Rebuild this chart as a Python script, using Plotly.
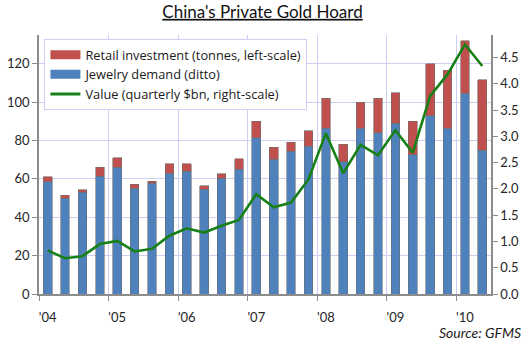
import plotly.graph_objects as go

# Quarterly data, Q1 2004 .. Q2 2010
quarters = [f"{y} Q{q}" for y in range(2004, 2011) for q in range(1, 5)][:26]
jewelry = [58.5, 50.0, 53.0, 61.5, 66.0, 55.0, 57.7, 63.0, 64.0, 54.5, 60.3, 65.0, 81.5,
           70.3, 74.5, 77.0, 86.5, 69.0, 86.5, 84.0, 89.0, 72.5, 93.0, 86.5, 104.7, 75.0]
total = [61.0, 51.5, 54.3, 66.0, 71.0, 57.3, 58.7, 68.0, 68.0, 56.3, 62.8, 70.5, 90.0,
         76.5, 79.0, 85.0, 102.0, 78.0, 100.0, 102.0, 105.0, 90.0, 120.0, 116.5, 132.0, 111.6]
retail = [round(t - j, 1) for t, j in zip(total, jewelry)]
value_bn = [0.83, 0.68, 0.72, 0.95, 1.01, 0.81, 0.86, 1.11, 1.25, 1.17, 1.30, 1.41, 1.90,
            1.65, 1.74, 2.18, 3.06, 2.30, 2.84, 2.64, 3.12, 2.69, 3.77, 4.18, 4.75, 4.34]
year_labels = ["'04", "'05", "'06", "'07", "'08", "'09", "'10"]

BLUE = "#4f81bd"
RED = "#c0504d"
GREEN = "#178017"
GRID = "#cfcff5"
AXIS = "#8c8c8c"
FONT = "Lato"

x = list(range(len(quarters)))
bar_line = dict(color="rgba(110,110,110,0.75)", width=0.8)

fig = go.Figure()
fig.add_trace(go.Bar(x=x, y=jewelry, marker=dict(color=BLUE, line=bar_line),
                     width=0.5, showlegend=False, customdata=quarters,
                     hovertemplate="%{customdata}<br>Jewelry: %{y}t<extra></extra>"))
fig.add_trace(go.Bar(x=x, y=retail, marker=dict(color=RED, line=bar_line),
                     width=0.5, showlegend=False, customdata=quarters,
                     hovertemplate="%{customdata}<br>Retail: %{y}t<extra></extra>"))
fig.add_trace(go.Scatter(x=x, y=value_bn, yaxis="y2", mode="lines",
                         line=dict(color=GREEN, width=2.6), showlegend=False,
                         customdata=quarters,
                         hovertemplate="%{customdata}<br>$%{y}bn<extra></extra>"))

# Legend entries with wide rectangular swatches
legend_items = [("Retail investment (tonnes, left-scale)", RED, 9),
                ("Jewelry demand (ditto)", BLUE, 9),
                ("Value (quarterly $bn, right-scale)", GREEN, 3)]
for rank, (name, color, w) in enumerate(legend_items, start=1):
    fig.add_trace(go.Scatter(x=[None], y=[None], mode="lines", name=name,
                             line=dict(color=color, width=w), legendrank=rank,
                             hoverinfo="skip"))

fig.update_layout(
    width=525, height=340,
    margin=dict(l=39, r=34, t=35, b=46),
    paper_bgcolor="white", plot_bgcolor="white",
    barmode="stack", bargap=0.5,
    font=dict(family=FONT, color="#262626", size=13),
    title=dict(text="<u>China's Private Gold Hoard</u>", x=0.5, xanchor="center",
               y=0.965, yanchor="middle", font=dict(family=FONT, size=17, color="#111")),
    xaxis=dict(range=[-0.5, len(quarters) - 0.5], automargin=False,
               tickmode="array", tickvals=x[::4], ticktext=year_labels,
               ticks="", showgrid=False, showline=True, linecolor=AXIS, linewidth=1.5,
               tickfont=dict(size=13), ticklabelstandoff=11,
               minor=dict(tickmode="linear", tick0=-0.5, dtick=4, ticks="outside",
                          ticklen=5, tickcolor=AXIS, showgrid=True,
                          gridcolor=GRID, gridwidth=1),
               zeroline=False),
    yaxis=dict(range=[0, 135], tickmode="linear", tick0=0, dtick=20, automargin=False,
               showgrid=True, gridcolor=GRID, gridwidth=1,
               showline=True, linecolor=AXIS, linewidth=1.5,
               ticks="outside", ticklen=5, tickcolor=AXIS,
               tickfont=dict(size=13), zeroline=False),
    yaxis2=dict(range=[0, 4.93], tickmode="linear", tick0=0, dtick=0.5, automargin=False,
                tickformat=".1f", overlaying="y", side="right",
                showgrid=False, showline=True, linecolor=AXIS, linewidth=1.5,
                ticks="outside", ticklen=5, tickcolor=AXIS,
                tickfont=dict(size=13), zeroline=False),
    legend=dict(x=0.012, y=0.985, xanchor="left", yanchor="top",
                traceorder="normal",
                bgcolor="white", bordercolor=GRID, borderwidth=1,
                font=dict(family="Open Sans", size=12.8, color="#1a1a1a"),
                itemwidth=30, tracegroupgap=0,
                itemclick=False, itemdoubleclick=False),
    showlegend=True,
    annotations=[dict(text="<i>Source: GFMS</i>", xref="paper", yref="paper",
                      x=1.07, y=-0.147, xanchor="right", yanchor="middle",
                      showarrow=False, font=dict(family=FONT, size=14, color="#1a1a1a"))],
)

fig.write_html("out.html")
